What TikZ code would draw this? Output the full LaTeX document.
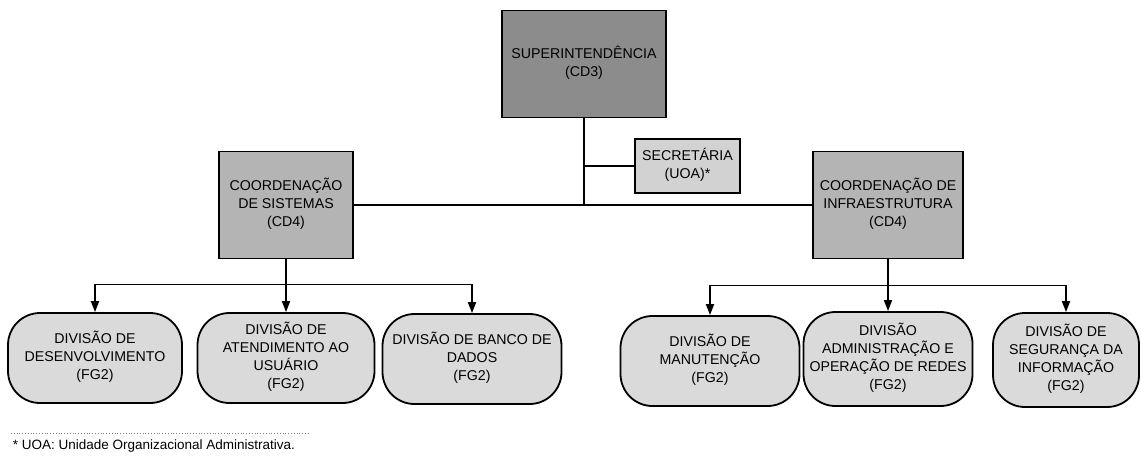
\documentclass[tikz,border=0pt]{standalone}
\usepackage{fontspec}
\setmainfont{Liberation Sans}
\usetikzlibrary{arrows.meta}
\definecolor{cinzaesc}{HTML}{8C8C8C}
\definecolor{cinzamed}{HTML}{B4B4B4}
\definecolor{cinzacla}{HTML}{D2D2D2}
\definecolor{cinzadiv}{HTML}{DADADA}
\begin{document}
\begin{tikzpicture}[x=1pt, y=-1pt, line width=1.8pt,
            caixa/.style={rectangle, draw=black, line width=1.8pt, inner sep=0pt, font=\fontsize{14.2}{18}\selectfont},
            superint/.style={caixa, fill=cinzaesc, minimum width=164pt, minimum height=107pt},
            secret/.style={caixa, fill=cinzacla, minimum width=105pt, minimum height=54pt},
            coord/.style={caixa, fill=cinzamed, minimum height=107pt},
            divisao/.style={caixa, fill=cinzadiv, rounded corners=32pt, minimum height=90pt},
            seta/.style={-{Triangle[width=8pt,length=11pt]}},
        ]
            \useasboundingbox (0,0) rectangle (1142,456);
            \node(sup) at (584,64) [superint] {\begin{tabular}{c} SUPERINTENDÊNCIA \\ (CD3) \end{tabular}};
            \node(sec) at (687.5,166) [secret] {\begin{tabular}{c} SECRETÁRIA \\ (UOA)* \end{tabular}};
            \node(cosis) at (286,205) [coord, minimum width=134pt] {\begin{tabular}{c} COORDENAÇÃO \\ DE SISTEMAS \\ (CD4) \end{tabular}};
            \node(coinf) at (888,205) [coord, minimum width=150pt] {\begin{tabular}{c} COORDENAÇÃO DE \\ INFRAESTRUTURA \\ (CD4) \end{tabular}};
            \node(desenv) at (95,358) [divisao, minimum width=174pt] {\begin{tabular}{c} DIVISÃO DE \\ DESENVOLVIMENTO \\ (FG2) \end{tabular}};
            \node(atend) at (286,358) [divisao, minimum width=177pt] {\begin{tabular}{c} DIVISÃO DE \\ ATENDIMENTO AO \\ USUÁRIO \\ (FG2) \end{tabular}};
            \node(banco) at (472,359) [divisao, minimum width=179pt] {\begin{tabular}{c} DIVISÃO DE BANCO DE \\ DADOS \\ (FG2) \end{tabular}};
            \node(manut) at (710,361) [divisao, minimum width=179pt] {\begin{tabular}{c} DIVISÃO DE \\ MANUTENÇÃO \\ (FG2) \end{tabular}};
            \node(admin) at (888,359) [divisao, minimum width=162pt, minimum height=94pt] {\begin{tabular}{c} DIVISÃO \\ ADMINISTRAÇÃO E \\ OPERAÇÃO DE REDES \\ (FG2) \end{tabular}};
            \node(seg) at (1066,360) [divisao, minimum width=146pt, minimum height=94pt] {\begin{tabular}{c} DIVISÃO DE \\ SEGURANÇA DA \\ INFORMAÇÃO \\ (FG2) \end{tabular}};
            \node(nota) at (11,446) [anchor=west, inner sep=1pt, font=\fontsize{13.5}{15}\selectfont] {* UOA: Unidade Organizacional Administrativa.};
            % ligacoes
            \draw (sup.south) -- (sup.south |- cosis.east);
            \draw (sup.south |- sec.west) -- (sec.west);
            \draw (cosis.east) -- (coinf.west);
            \path (cosis.south) ++(0,25) coordinate (barrasis);
            \path (coinf.south) ++(0,26) coordinate (barrainf);
            \draw (cosis.south) -- (barrasis);
            \draw (desenv.north |- barrasis) -- (banco.north |- barrasis);
            \draw (coinf.south) -- (barrainf);
            \draw (manut.north |- barrainf) -- (seg.north |- barrainf);
            \foreach \d in {desenv,atend,banco} \draw[seta] (\d.north |- barrasis) -- (\d.north);
            \foreach \d in {manut,admin,seg} \draw[seta] (\d.north |- barrainf) -- (\d.north);
            \draw[dotted, gray, line width=0.8pt] ([yshift=4pt]nota.north west) -- ++(298,0);
        \end{tikzpicture}
\end{document}
